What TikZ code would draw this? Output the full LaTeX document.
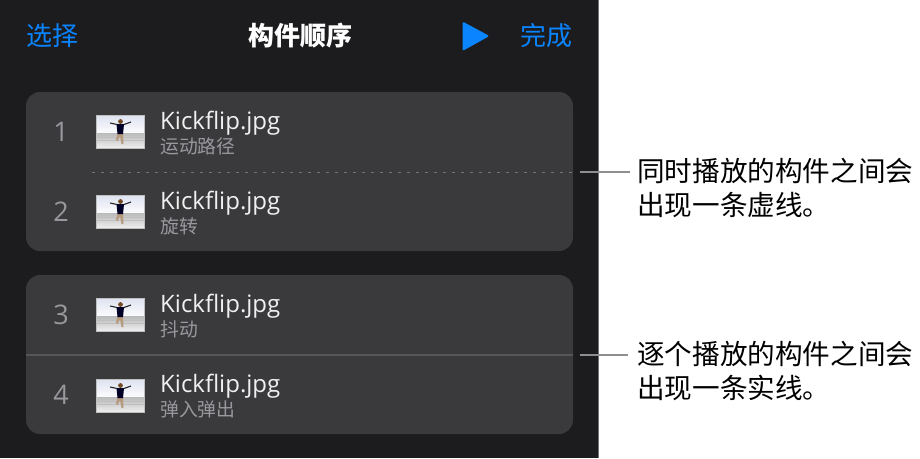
\documentclass[tikz,border=0pt]{standalone}
\usepackage{fontspec}
\setmainfont{Noto Sans CJK SC}
\newfontfamily\latinfont{Open Sans}
\usetikzlibrary{calc}
\definecolor{panelbg}{HTML}{1C1C1E}
\definecolor{cardbg}{HTML}{3A3A3C}
\definecolor{linkblue}{HTML}{0A84FF}
\definecolor{numgray}{HTML}{98989D}
\definecolor{leadgray}{HTML}{8E8E8E}
\definecolor{skyblue}{HTML}{DDE2F0}
\definecolor{skinbrown}{HTML}{B79A7C}
\tikzset{
	card/.style={fill=cardbg, rounded corners=14pt},
	title/.style={font=\fontsize{26}{30}\selectfont\bfseries, text=white},
	link/.style={font=\fontsize{26}{30}\selectfont, text=linkblue},
	num/.style={font=\latinfont\fontsize{27}{30}\selectfont, text=numgray},
	fname/.style={anchor=base west, inner sep=0pt, font=\latinfont\fontsize{24}{28}\selectfont, text=white!94!black},
	sub/.style={anchor=west, inner sep=0pt, font=\fontsize{18.8}{22}\selectfont, text=numgray},
	note/.style={anchor=west, inner sep=0pt, align=left, font=\fontsize{27.6}{34}\selectfont, text=black},
	lead/.style={draw=leadgray, line width=2pt}
}
\def\thumbimg(#1,#2){
	\begin{scope}[shift={(#1,#2)}]
		\fill[top color=skyblue, bottom color=white!90!skyblue] (0,0) rectangle (48,18);
		\fill[top color=black!28, bottom color=white!94!black] (0,18) rectangle (48,33);
		\foreach \i in {19,22,25} \draw[white!75!black, line width=0.7pt] (0,\i) -- (48,\i);
		\fill[skinbrown] (21.5,18) -- (20,25) -- (21.5,26) -- (24,21) -- (25.5,29) -- (27.5,29) -- (27,18) -- cycle;
		\fill[black!85!blue] (20.5,9) -- (28,9) -- (27,19) -- (21.5,19) -- cycle;
		\draw[black!85, line width=1.1pt] (21,9.5) -- (14,8);
		\draw[black!85, line width=1.1pt] (28,9.5) -- (35,7);
		\fill[brown!60!black] (24.5,6.5) circle (2.4);
		\draw[black!25, line width=0.5pt] (0,0) rectangle (48,33);
	\end{scope}
}

\begin{document}
\begin{tikzpicture}[x=1pt, y=-1pt]
	\useasboundingbox (0,0) rectangle (920,458);
	
	%%%%% PANEL %%%%%
	\fill[panelbg] (0,0) rectangle (598,458);
	\draw[black!55, line width=0.8pt] (598,0) -- (598,458);
	
	\node[link] (select) at (52,36) {选择};
	\node[title] (heading) at (300,36) {构件顺序};
	\fill[linkblue, rounded corners=1.5pt] (462.5,21.5) -- (489.5,36) -- (462.5,51) -- cycle;
	\node[link] (done) at (546,36) {完成};
	
	%%%%% CARDS %%%%%
	\fill[card] (26,92) rectangle (573,251);
	\fill[card] (26,275) rectangle (573,434);
	
	\draw[white!28!cardbg, line width=0.7pt, dash pattern=on 3pt off 6pt] (92,172) -- (573,172);
	\draw[white!14!cardbg, line width=1.2pt] (26,355) -- (573,355);
	
	%%%%% ROWS %%%%%
	\node[num] (num1) at (61,132) {1};
	\thumbimg(96,115)
	\node[fname] (file1) at (160,129) {Kickflip.jpg};
	\node[sub] (sub1) at (160,146) {运动路径};
	
	\node[num] (num2) at (61,212) {2};
	\thumbimg(96,195)
	\node[fname] (file2) at (160,209) {Kickflip.jpg};
	\node[sub] (sub2) at (160,226) {旋转};
	
	\node[num] (num3) at (61,315) {3};
	\thumbimg(96,298)
	\node[fname] (file3) at (160,312) {Kickflip.jpg};
	\node[sub] (sub3) at (160,329) {抖动};
	
	\node[num] (num4) at (61,395) {4};
	\thumbimg(96,379)
	\node[fname] (file4) at (160,392) {Kickflip.jpg};
	\node[sub] (sub4) at (160,409) {弹入弹出};
	
	%%%%% NOTES %%%%%
	\node[note] (note1) at (637,188) {同时播放的构件之间会\\出现一条虚线。};
	\node[note] (note2) at (637,371) {逐个播放的构件之间会\\出现一条实线。};
	
	\coordinate (lead1a) at (580,172);
	\coordinate (lead1b) at (630,172);
	\coordinate (lead2a) at (580,355);
	\coordinate (lead2b) at (628,355);
	\draw[lead] (lead1a) -- (lead1b);
	\draw[lead] (lead2a) -- (lead2b);
\end{tikzpicture}
\end{document}
